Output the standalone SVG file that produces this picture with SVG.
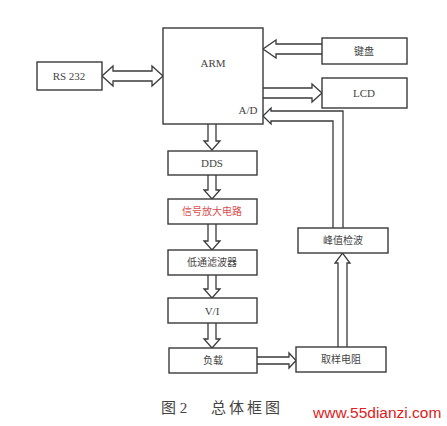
<svg xmlns="http://www.w3.org/2000/svg" width="447" height="426" viewBox="0 0 447 426">
<style>
.box{fill:#fff;stroke:#3a3a3a;stroke-width:1.4}
.arr{fill:#fff;stroke:#3a3a3a;stroke-width:1.3;stroke-linejoin:miter}
.t{font-family:"Liberation Serif","Noto Sans CJK SC",serif;font-size:11px;fill:#444;text-anchor:middle;dominant-baseline:central}
.c{font-family:"Liberation Serif","Noto Sans CJK SC",serif;font-size:10px;fill:#444;text-anchor:middle;dominant-baseline:central}
.cap{font-family:"Liberation Serif","Noto Sans CJK SC",serif;font-size:15px;fill:#444}
</style>
<rect width="447" height="426" fill="#fff"/>
<g id="connectors">
<path class="arr" d="M102,76 L113,66 V71 H152 V66 L163,76 L152,86 V81 H113 V86 Z"/>
<path class="arr" d="M322,44 H276 V40 L263,49 L276,58 V54 H322"/>
<path class="arr" d="M263,88 H312 V84 L322,93 L312,102 V98 H263"/>
<path class="arr" d="M343,228 V111 H271 V108 L263,116 L271,124 V121 H333 V228"/>
<path class="arr" d="M208,124 V141 H204 L212,150 L220,141 H216 V124"/>
<path class="arr" d="M208,175 V190 H204 L212,199 L220,190 H216 V175"/>
<path class="arr" d="M208,224 V241 H204 L212,250 L220,241 H216 V224"/>
<path class="arr" d="M208,275 V289 H204 L212,298 L220,289 H216 V275"/>
<path class="arr" d="M208,323 V339 H204 L212,348 L220,339 H216 V323"/>
<path class="arr" d="M257,357 H289 V353 L296,360.5 L289,368 V364 H257"/>
<path class="arr" d="M338,347 V263 H335 L342.5,253 L350,263 H347 V347"/>
</g>
<g id="arm"><rect class="box" x="163" y="28" width="100" height="96"/><text class="t" x="213" y="63">ARM</text><text class="t" x="248" y="110">A/D</text></g>
<g id="keyboard"><rect class="box" x="322" y="38" width="85" height="26"/><text class="c" x="364" y="51">键盘</text></g>
<g id="lcd"><rect class="box" x="322" y="78" width="85" height="30"/><text class="t" x="364" y="93">LCD</text></g>
<g id="rs232"><rect class="box" x="37" y="62" width="65" height="28"/><text class="t" x="69" y="76">RS 232</text></g>
<g id="dds"><rect class="box" x="168" y="151" width="89" height="24"/><text class="t" x="212" y="163">DDS</text></g>
<g id="amp"><rect class="box" x="168" y="199" width="89" height="25"/><text class="c" x="212" y="211.5" style="fill:#d85050">信号放大电路</text></g>
<g id="lpf"><rect class="box" x="168" y="250" width="89" height="25"/><text class="c" x="212" y="262.5">低通滤波器</text></g>
<g id="vi"><rect class="box" x="168" y="298" width="89" height="25"/><text class="t" x="212" y="310.5">V/I</text></g>
<g id="load"><rect class="box" x="169" y="348" width="88" height="25"/><text class="c" x="213" y="360.5">负载</text></g>
<g id="sample"><rect class="box" x="296" y="347" width="90" height="25"/><text class="c" x="341" y="359.5">取样电阻</text></g>
<g id="peak"><rect class="box" x="298" y="228" width="90" height="25"/><text class="c" x="343" y="240.5">峰值检波</text></g>
<text class="cap" x="161" y="413">图 2<tspan x="211" style="letter-spacing:3px">总体框图</tspan></text>
<text x="313" y="418" style="font-family:'Liberation Sans',sans-serif;font-size:15.5px;fill:#e02020">www.55dianzi.com</text>
</svg>
